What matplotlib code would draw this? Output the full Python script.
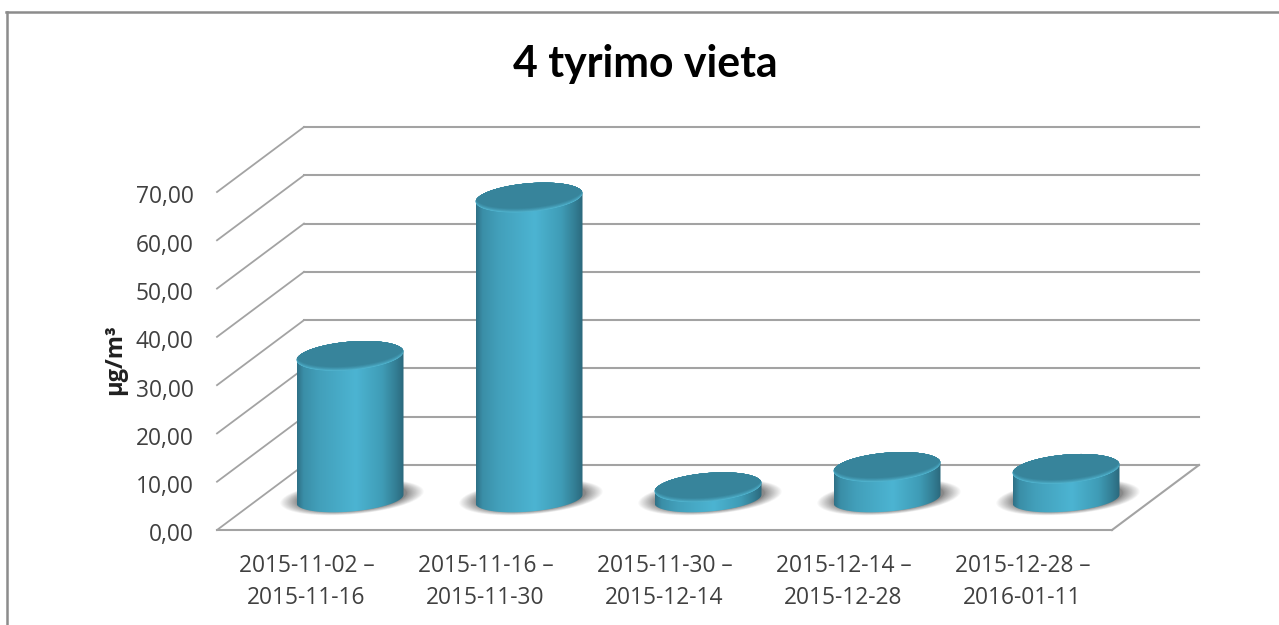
import numpy as np
import matplotlib
matplotlib.use("Agg")
import matplotlib.pyplot as plt
from matplotlib.colors import LinearSegmentedColormap, to_rgb
from matplotlib.patches import Polygon
from matplotlib.transforms import ScaledTranslation

# ---- data ----
categories = ["2015-11-02 –\n2015-11-16", "2015-11-16 –\n2015-11-30",
              "2015-11-30 –\n2015-12-14", "2015-12-14 –\n2015-12-28",
              "2015-12-28 –\n2016-01-11"]
values = [29.6, 62.4, 2.4, 6.6, 6.2]
y_ticks = [0, 10, 20, 30, 40, 50, 60, 70]
y_labels = ["0,00", "10,00", "20,00", "30,00", "40,00", "50,00", "60,00", "70,00"]
title = "4 tyrimo vieta"
y_title = "µg/m³"

# ---- layout (pixels of the 1279x625 canvas) ----
W, H = 1279, 625
L, R, B, T = 217, 1112, 530, 192
fig = plt.figure(figsize=(W / 100, H / 100), dpi=100, facecolor="white")
ax = fig.add_axes([L / W, 1 - B / H, (R - L) / W, (B - T) / H])
ax.set_xlim(0, len(categories))
ax.set_ylim(0, 70)
ax.patch.set_alpha(0)
for s in ax.spines.values():
    s.set_visible(False)

px = (R - L) / len(categories)      # pixels per category
py = (B - T) / 70                   # pixels per value unit
DX, DY = 87 / px, 65 / py           # depth vector in data units
A, BB = 53.5 / px, 14.4 / py        # ellipse half axes in data units
SHEAR = 0.08 * px / py              # ellipse tilt

GRID = "#a3a3a3"
TXT = "#404040"
for t in y_ticks:
    ax.plot([0, DX], [t, t + DY], color=GRID, lw=1.3, clip_on=False, zorder=1)
    ax.plot([DX, len(categories) + DX], [t + DY, t + DY], color=GRID, lw=1.5,
            clip_on=False, zorder=1)
ax.plot([0, len(categories)], [0, 0], color=GRID, lw=1.5, clip_on=False, zorder=1)
ax.plot([len(categories), len(categories) + DX], [0, DY], color=GRID, lw=1.5,
        clip_on=False, zorder=1)


def ellipse(cx, cy, sx=1.0, sy=1.0, lift=0.0, n=120, start=0, stop=2 * np.pi):
    th = np.linspace(start, stop, n)
    xs = A * sx * np.cos(th)
    ys = SHEAR * A * sx * np.cos(th) + BB * sy * np.sin(th)
    return np.column_stack([cx + xs, cy + ys + lift])


body_cmap = LinearSegmentedColormap.from_list("body", [
    (0.00, "#2f7086"), (0.06, "#3a8ea7"), (0.20, "#429fba"), (0.55, "#4cb4d2"),
    (0.80, "#3f9cb6"), (0.93, "#337d93"), (1.00, "#2b687c")])
rim, centre = np.array(to_rgb("#52b6d1")), np.array(to_rgb("#37849b"))

for i, v in enumerate(values):
    cx = i + 0.5 + DX / 2
    base = DY / 2 - 0.3
    top = base + v
    z = 3 + i * 0.1
    # soft floor shadow
    for k in np.linspace(1.0, 0.0, 24) ** 1.4:
        sh = ellipse(cx + 2 / px, base + 0.35, 1.02 + 0.32 * k, 0.95 + 0.24 * k)
        ax.add_patch(Polygon(sh, closed=True, fc="#303030", ec="none", alpha=0.03,
                             clip_on=False, zorder=z))
    # cylinder wall
    front_bottom = ellipse(cx, base, sy=0.88, start=np.pi, stop=2 * np.pi)
    back_top = ellipse(cx, top, start=0, stop=np.pi)
    outline = np.vstack([front_bottom, back_top])
    clip = Polygon(outline, closed=True, transform=ax.transData)
    grad = np.linspace(0, 1, 256)[None, :]
    im = ax.imshow(grad, cmap=body_cmap, aspect="auto", zorder=z + 0.01,
                   extent=[cx - A, cx + A, base - 2 * BB, top + 2 * BB])
    im.set_clip_path(clip)
    im.set_clip_box(fig.bbox)
    # cylinder lid: lit rim on the near edge fading to a flat centre
    steps = 12
    lid_clip = Polygon(ellipse(cx, top), closed=True, transform=ax.transData)
    for s in range(steps):
        f = s / (steps - 1)
        col = rim * (1 - f) ** 1.5 + centre * (1 - (1 - f) ** 1.5)
        p = ax.add_patch(Polygon(ellipse(cx, top, lift=s * 0.09), closed=True,
                                 fc=col, ec="none", zorder=z + 0.02 + s * 0.001))
        p.set_clip_path(lid_clip)
        p.set_clip_box(fig.bbox)

ax.set_xlim(0, len(categories))
ax.set_ylim(0, 70)
ax.set_xticks(np.arange(len(categories)) + 0.5)
ax.set_xticklabels(categories, fontfamily="Open Sans", fontsize=16.4, color=TXT,
                   linespacing=1.44)
ax.set_yticks(y_ticks)
ax.set_yticklabels(y_labels, fontfamily="Open Sans", fontsize=16.4, color=TXT)
ax.tick_params(axis="x", length=0, pad=17)
ax.tick_params(axis="y", length=0, pad=17)
down = ScaledTranslation(0, -2.5 / 100, fig.dpi_scale_trans)
for lab in ax.get_yticklabels():
    lab.set_transform(lab.get_transform() + down)

fig.text(645.5 / W, 1 - 63.5 / H, title, ha="center", va="center",
         fontfamily="Lato", fontweight="bold", fontsize=30.8, color="black")
fig.text(115 / W, 1 - 360 / H, y_title, ha="center", va="center", rotation=90,
         fontfamily="Open Sans", fontweight="bold", fontsize=17, color="#202020")

# outer chart frame
frame = "#8c8c8c"
fig.add_artist(plt.Line2D([6.5 / W, 6.5 / W], [0, 1 - 12 / H], color=frame, lw=1.8))
fig.add_artist(plt.Line2D([6 / W, 1], [1 - 12 / H, 1 - 12 / H], color=frame, lw=1.8))

fig.savefig("out.png", dpi=100)
